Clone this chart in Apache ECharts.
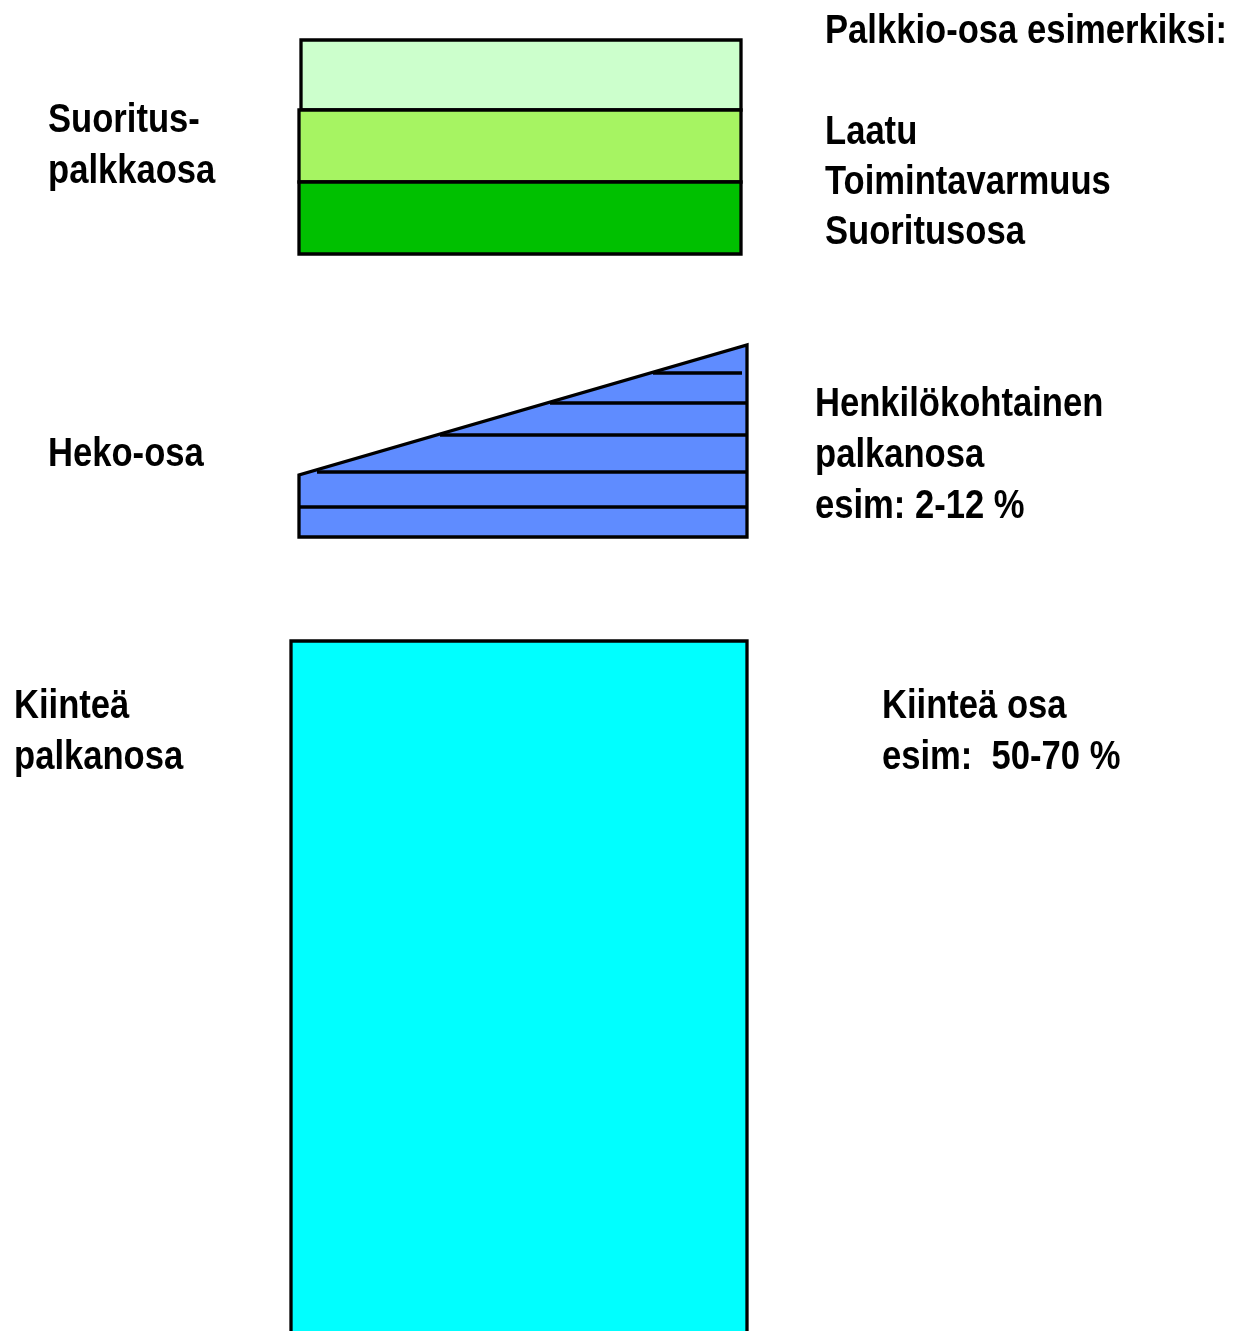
<!DOCTYPE html>
<html>
<head>
<meta charset="utf-8">
<script src="https://cdn.jsdelivr.net/npm/echarts@6/dist/echarts.min.js"></script>
<style>
html,body{margin:0;padding:0;background:#fff;}
#chart{width:1238px;height:1331px;}
</style>
</head>
<body>
<div id="chart"></div>
<script>
// ---- Data (diagram units; x to the right, y downward) ----
const layerNames = ['Palkkio', 'Toimintavarmuus', 'Suoritusosa'];
const layerLeft = [301, 299, 299];
const layerRight = [741, 741, 741];
const layerTop = [40, 110, 182];
const layerBottom = [110, 182, 254];

const hekoPolyX = [299, 299, 747, 747];
const hekoPolyY = [537, 475, 345, 537];
const hekoLineX0 = [653, 550, 440, 317, 299];
const hekoLineX1 = [742, 747, 747, 747, 747];
const hekoLineY = [373, 403, 435, 472, 507];

const fixedBlock = [291, 747, 641, 1345]; // x0, x1, y0, y1

const labelTexts = ['Palkkio-osa esimerkiksi:', 'Laatu', 'Toimintavarmuus', 'Suoritusosa',
  'Suoritus-', 'palkkaosa', 'Heko-osa',
  'Henkilökohtainen', 'palkanosa', 'esim: 2-12 %',
  'Kiinteä', 'palkanosa', 'Kiinteä osa', 'esim:  50-70 %'];
const labelX = [825, 825, 825, 825, 48, 48, 48, 815, 815, 815, 14, 14, 882, 882];
const labelY = [42, 143, 193, 243, 131, 182, 465, 415, 466, 517, 717, 768, 717, 768]; // baselines

// ---- Styles ----
const layerColors = ['#ccffcc', '#a6f462', '#00c000'];
const hekoColor = '#5f8cff';
const fixedColor = '#00ffff';
const strokeW = 3.3;
const fontSize = 40;
const textScaleX = 0.865;
const FONT = 'bold ' + fontSize + 'px "Liberation Sans", Arial, sans-serif';

const chart = echarts.init(document.getElementById('chart'), null, {renderer: 'canvas'});

function rectShape(api, x0, x1, y0, y1) {
  const p0 = api.coord([x0, y0]);
  const p1 = api.coord([x1, y1]);
  return {x: Math.min(p0[0], p1[0]), y: Math.min(p0[1], p1[1]),
          width: Math.abs(p1[0] - p0[0]), height: Math.abs(p1[1] - p0[1])};
}

const option = {
  backgroundColor: '#ffffff',
  animation: false,
  grid: {left: 0, right: 0, top: 0, bottom: 0, containLabel: false},
  xAxis: {type: 'value', min: 0, max: 1238, show: false},
  yAxis: {type: 'value', min: 0, max: 1331, inverse: true, show: false},
  series: [
    {
      type: 'custom', name: 'layers', silent: true,
      data: layerNames.map((n, i) => [layerLeft[i], layerRight[i], layerTop[i], layerBottom[i], i]),
      renderItem: function (params, api) {
        const i = api.value(4);
        return {
          type: 'rect',
          shape: rectShape(api, api.value(0), api.value(1), api.value(2), api.value(3)),
          style: {fill: layerColors[i], stroke: '#000', lineWidth: strokeW}
        };
      }
    },
    {
      type: 'custom', name: 'heko', silent: true,
      data: [hekoPolyX.concat(hekoPolyY)],
      renderItem: function (params, api) {
        const n = hekoPolyX.length;
        const pts = [];
        for (let k = 0; k < n; k++) pts.push(api.coord([api.value(k), api.value(n + k)]));
        return {
          type: 'polygon',
          shape: {points: pts},
          style: {fill: hekoColor, stroke: '#000', lineWidth: strokeW, lineJoin: 'miter'}
        };
      }
    },
    {
      type: 'custom', name: 'hekoLines', silent: true,
      data: hekoLineY.map((y, i) => [hekoLineX0[i], hekoLineX1[i], y]),
      renderItem: function (params, api) {
        const a = api.coord([api.value(0), api.value(2)]);
        const b = api.coord([api.value(1), api.value(2)]);
        return {
          type: 'line',
          shape: {x1: a[0], y1: a[1], x2: b[0], y2: b[1]},
          style: {stroke: '#000', lineWidth: strokeW}
        };
      }
    },
    {
      type: 'custom', name: 'fixed', silent: true,
      data: [fixedBlock],
      renderItem: function (params, api) {
        return {
          type: 'rect',
          shape: rectShape(api, api.value(0), api.value(1), api.value(2), api.value(3)),
          style: {fill: fixedColor, stroke: '#000', lineWidth: strokeW}
        };
      }
    },
    {
      type: 'custom', name: 'labels', silent: true,
      data: labelTexts.map((t, i) => [labelX[i], labelY[i], i]),
      renderItem: function (params, api) {
        const p = api.coord([api.value(0), api.value(1)]);
        const i = api.value(2);
        return {
          type: 'text',
          x: p[0], y: p[1] - fontSize * 0.25,
          scaleX: textScaleX,
          style: {
            text: labelTexts[i], x: 0, y: 0,
            font: FONT, fill: '#000',
            align: 'left', verticalAlign: 'middle'
          }
        };
      }
    }
  ]
};
chart.setOption(option);
</script>
</body>
</html>
